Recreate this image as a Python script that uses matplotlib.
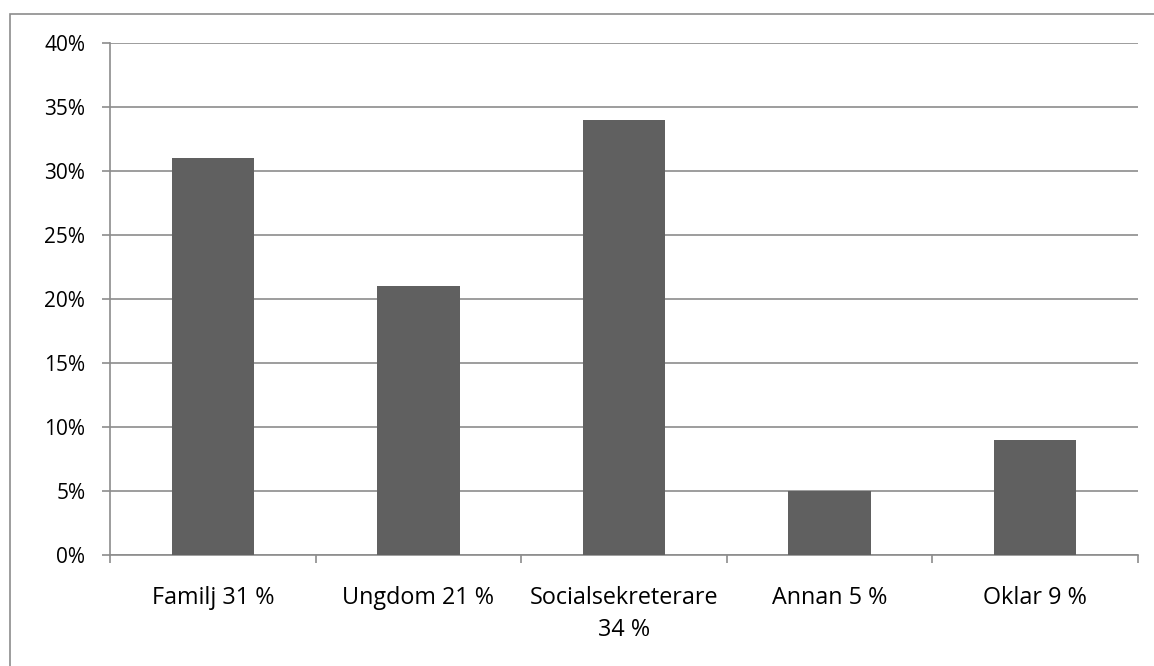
import numpy as np
import matplotlib.pyplot as plt
from matplotlib.patches import Rectangle
from matplotlib.ticker import MultipleLocator, FuncFormatter

# Data
categories = ['Familj 31 %', 'Ungdom 21 %', 'Socialsekreterare\n34 %', 'Annan 5 %', 'Oklar 9 %']
values = [31, 21, 34, 5, 9]

plt.rcParams['font.family'] = ['Open Sans', 'DejaVu Sans']

W, H = 1154, 666
fig = plt.figure(figsize=(W / 100, H / 100), dpi=100)

# outer chart frame (cut off at right and bottom in the original)
fig.patches.append(Rectangle((10 / W, -0.1), 1.2, 1 - 14 / H + 0.1,
                             transform=fig.transFigure, fill=False,
                             edgecolor='#8c8c8c', linewidth=1.2))

left, right, top, bottom = 110, 1138, 43, 555
ax = fig.add_axes([left / W, 1 - bottom / H, (right - left) / W, (bottom - top) / H])

x = np.arange(len(categories))
ax.bar(x, values, width=0.4, color='#606060', zorder=3)

ax.set_xlim(-0.5, len(categories) - 0.5)
ax.set_ylim(0, 40)
ax.yaxis.set_major_locator(MultipleLocator(5))
ax.yaxis.set_major_formatter(FuncFormatter(lambda v, p: f'{int(v)}%'))
ax.grid(axis='y', color='#8c8c8c', linewidth=1.2, zorder=0)

ax.set_xticks(x)
ax.set_xticklabels(categories, linespacing=1.45)
ax.set_xticks(np.arange(-0.5, len(categories)), minor=True)
ax.tick_params(axis='x', which='major', length=0, pad=22, labelsize=16.8)
ax.tick_params(axis='x', which='minor', length=5.8, width=1.2, color='#8c8c8c')
ax.tick_params(axis='y', length=5.8, width=1.2, color='#8c8c8c', pad=12, labelsize=15)

for s in ['top', 'right']:
    ax.spines[s].set_visible(False)
for s in ['left', 'bottom']:
    ax.spines[s].set_color('#8c8c8c')
    ax.spines[s].set_linewidth(1.2)

fig.savefig('out.png', dpi=100)
